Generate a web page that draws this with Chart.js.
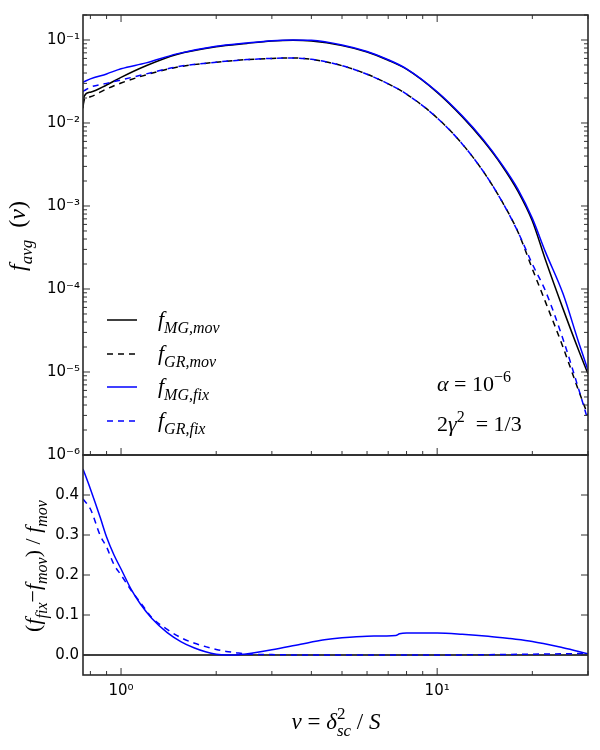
<!DOCTYPE html>
<html>
<head>
<meta charset="utf-8">
<script src="https://cdn.jsdelivr.net/npm/chart.js@4.4.1/dist/chart.umd.min.js"></script>
<style>
  html, body { margin: 0; padding: 0; background: #fff; }
  #wrap { width: 600px; height: 750px; }
</style>
</head>
<body>
<div id="wrap"><canvas id="chart" width="600" height="750"></canvas></div>
<script>
// nu = delta_sc^2 / S, shared by the four curves of the upper panel
const nu = [0.758, 0.765, 0.8, 0.9, 1.0, 1.2, 1.5, 2, 2.5, 3, 3.5, 4, 5, 6, 7, 8, 10, 12, 14, 16, 18, 20, 22, 25, 28, 30];
const fMGmov = [0.015, 0.021, 0.0235, 0.0287, 0.0355, 0.049, 0.067, 0.083, 0.091, 0.097, 0.099, 0.097, 0.0855, 0.0715, 0.057, 0.0445, 0.0234, 0.0119, 0.0061, 0.0031, 0.00151, 0.00066, 0.000225, 0.000058, 0.0000184, 0.0000095];
const fGRmov = [0.0165, 0.019, 0.0207, 0.0257, 0.0303, 0.038, 0.047, 0.054, 0.058, 0.060, 0.0607, 0.0585, 0.049, 0.0387, 0.0296, 0.0223, 0.0115, 0.0056, 0.0026, 0.00115, 0.00049, 0.000175, 0.00007, 0.00002, 0.000006, 0.000003];
const fMGfix = [0.031, 0.0315, 0.034, 0.039, 0.045, 0.053, 0.068, 0.084, 0.092, 0.098, 0.100, 0.099, 0.087, 0.0725, 0.0578, 0.045, 0.0238, 0.0122, 0.0063, 0.0032, 0.0016, 0.00071, 0.00028, 0.000088, 0.000023, 0.0000105];
const fGRfix = [0.024, 0.0245, 0.027, 0.030, 0.033, 0.039, 0.0475, 0.054, 0.058, 0.060, 0.0607, 0.0585, 0.049, 0.0387, 0.0296, 0.0223, 0.0115, 0.0056, 0.0026, 0.00115, 0.00049, 0.0002, 0.000095, 0.000025, 0.0000063, 0.0000026];

// lower panel: (f_fix - f_mov) / f_mov
const nuRatio = [0.758, 0.8, 0.86, 0.9, 0.95, 1.0, 1.08, 1.15, 1.25, 1.4, 1.55, 1.7, 1.85, 2.0, 2.15, 2.3, 2.45, 3.0, 3.7, 4.4, 5.0, 6.0, 7.4, 7.6, 8.0, 10, 12, 14.5, 17, 20, 25, 30];
const ratioMG = [0.465, 0.415, 0.343, 0.295, 0.25, 0.215, 0.162, 0.128, 0.092, 0.056, 0.033, 0.018, 0.008, 0.002, 0.0, 0.0, 0.002, 0.013, 0.027, 0.038, 0.043, 0.047, 0.049, 0.053, 0.055, 0.055, 0.052, 0.047, 0.041, 0.034, 0.018, 0.003];
const ratioGR = [0.39, 0.365, 0.298, 0.27, 0.226, 0.20, 0.16, 0.132, 0.094, 0.064, 0.043, 0.03, 0.021, 0.014, 0.009, 0.006, 0.003, 0.001, 0.0, 0.0, 0.0, 0.0, 0.0, 0.0, 0.0, 0.0, 0.0003, 0.0008, 0.0015, 0.002, 0.003, 0.004];
const zeroX = [0.758, 30];
const zeroY = [0, 0];

// tick positions
const xMajor = [1, 10];
const xMinor = [0.8, 0.9, 2, 3, 4, 5, 6, 7, 8, 9, 20, 30];
const yTopDecades = [-6, -5, -4, -3, -2, -1];
const yTopMinorMult = [2, 3, 4, 5, 6, 7, 8, 9];
const yBotTicks = [0, 0.1, 0.2, 0.3, 0.4];

const pts = (xs, ys) => xs.map((x, i) => ({ x, y: ys[i] }));
const serif = '"Liberation Serif", "DejaVu Serif", serif';
const SUP = { '0': '⁰', '1': '¹', '2': '²', '3': '³', '4': '⁴', '5': '⁵', '6': '⁶', '7': '⁷', '8': '⁸', '9': '⁹', '-': '⁻' };
const supText = (n) => String(n).split('').map(c => SUP[c]).join('');

function partFont(kind, size) {
  const s = (kind === 'i' || kind === 'r') ? size : Math.round(size * 0.72);
  const it = (kind === 'r' || kind === 'rsup') ? '' : 'italic ';
  return it + s + 'px ' + serif;
}
function partWidth(ctx, p, size) {
  ctx.font = partFont(p[1], size);
  if (p[1] === 'ss') {
    const [a, b] = p[0].split('|');
    return Math.max(ctx.measureText(a).width, ctx.measureText(b).width);
  }
  return ctx.measureText(p[0]).width;
}
// parts: [text, kind] with kind i (italic), r (roman), sub, sup, rsup, ss (sub|sup stacked)
function drawMath(ctx, parts, x, y, size, align) {
  ctx.save();
  ctx.fillStyle = '#000';
  ctx.textBaseline = 'alphabetic';
  ctx.textAlign = 'left';
  const widths = parts.map(p => partWidth(ctx, p, size));
  const total = widths.reduce((a, b) => a + b, 0);
  let cx = align === 'center' ? x - total / 2 : x;
  parts.forEach((p, i) => {
    ctx.font = partFont(p[1], size);
    if (p[1] === 'ss') {
      const [a, b] = p[0].split('|');
      ctx.fillText(a, cx, y + size * 0.3);
      ctx.font = partFont('rsup', size);
      ctx.fillText(b, cx, y - size * 0.42);
    } else {
      let dy = 0;
      if (p[1] === 'sub') dy = size * 0.3;
      if (p[1] === 'sup' || p[1] === 'rsup') dy = -size * 0.42;
      ctx.fillText(p[0], cx, y + dy);
    }
    cx += widths[i];
  });
  ctx.restore();
}

const decorations = {
  id: 'decorations',
  afterDraw(chart) {
    const ctx = chart.ctx;
    const ca = chart.chartArea;
    const x = chart.scales.x, yT = chart.scales.yTop, yB = chart.scales.yBot;
    ctx.save();

    // inward ticks
    ctx.strokeStyle = '#333';
    ctx.lineWidth = 1;
    const line = (x1, y1, x2, y2) => { ctx.beginPath(); ctx.moveTo(x1, y1); ctx.lineTo(x2, y2); ctx.stroke(); };
    const xTick = (v, len) => {
      const px = x.getPixelForValue(v);
      line(px, yT.top, px, yT.top + len);
      line(px, yT.bottom, px, yT.bottom - len);
      line(px, yB.bottom, px, yB.bottom - len);
    };
    xMajor.forEach(v => xTick(v, 7));
    xMinor.forEach(v => xTick(v, 4));
    const yTick = (scale, v, len) => {
      const py = scale.getPixelForValue(v);
      line(ca.left, py, ca.left + len, py);
      line(ca.right, py, ca.right - len, py);
    };
    yTopDecades.forEach(d => {
      yTick(yT, Math.pow(10, d), 7);
      if (d < -1) yTopMinorMult.forEach(m => yTick(yT, m * Math.pow(10, d), 4));
    });
    yTick(yT, 0.2, 4);
    yBotTicks.forEach(v => yTick(yB, v, 7));

    // panel frames
    ctx.strokeStyle = '#2b2b2b';
    ctx.lineWidth = 1.6;
    ctx.strokeRect(ca.left, yT.top, ca.right - ca.left, yT.bottom - yT.top);
    ctx.strokeRect(ca.left, yB.top, ca.right - ca.left, yB.bottom - yB.top);

    // legend
    const legendY = [320, 354, 387, 421];
    chart.data.datasets.filter(d => d.mathLabel).forEach((d, i) => {
      const ly = legendY[i];
      ctx.strokeStyle = d.borderColor;
      ctx.lineWidth = d.borderWidth;
      ctx.setLineDash(d.borderDash || []);
      line(107, ly, 137, ly);
      ctx.setLineDash([]);
      drawMath(ctx, d.mathLabel, 158, ly + 6, 22);
    });

    // annotations
    drawMath(ctx, [['α', 'i'], [' = ', 'r'], ['10', 'r'], ['−6', 'rsup']], 437, 391, 22);
    drawMath(ctx, [['2', 'r'], ['γ', 'i'], ['2', 'rsup'], ['  = ', 'r'], ['1/3', 'r']], 437, 431, 22);

    // axis titles
    drawMath(ctx, [['ν', 'i'], [' = ', 'r'], ['δ', 'i'], ['sc|2', 'ss'], [' / ', 'r'], ['S', 'i']], 336, 729, 23, 'center');
    ctx.save();
    ctx.translate(25, 236);
    ctx.rotate(-Math.PI / 2);
    drawMath(ctx, [['f', 'i'], ['avg', 'sub'], ['  (', 'r'], ['ν', 'i'], [')', 'r']], 0, 0, 24, 'center');
    ctx.restore();
    ctx.save();
    ctx.translate(40, 566);
    ctx.rotate(-Math.PI / 2);
    drawMath(ctx, [['(', 'r'], ['f', 'i'], ['fix', 'sub'], ['−', 'r'], ['f', 'i'], ['mov', 'sub'], [')', 'r'], [' / ', 'r'], ['f', 'i'], ['mov', 'sub']], 0, 0, 22, 'center');
    ctx.restore();

    ctx.restore();
  }
};

const tickFont = { family: '"DejaVu Sans", sans-serif', size: 15 };
const logLabel = (v) => {
  const e = Math.log10(v);
  return Math.abs(e - Math.round(e)) < 1e-6 ? '10' + supText(Math.round(e)) : '';
};

new Chart(document.getElementById('chart'), {
  type: 'line',
  data: {
    datasets: [
      { label: 'f_MG,mov', mathLabel: [['f', 'i'], ['MG,mov', 'sub']], data: pts(nu, fMGmov), yAxisID: 'yTop',
        borderColor: '#000000', borderWidth: 1.5, order: 4 },
      { label: 'f_GR,mov', mathLabel: [['f', 'i'], ['GR,mov', 'sub']], data: pts(nu, fGRmov), yAxisID: 'yTop',
        borderColor: '#000000', borderWidth: 1.5, borderDash: [6, 5], order: 3 },
      { label: 'f_MG,fix', mathLabel: [['f', 'i'], ['MG,fix', 'sub']], data: pts(nu, fMGfix), yAxisID: 'yTop',
        borderColor: '#0000ff', borderWidth: 1.5, order: 2 },
      { label: 'f_GR,fix', mathLabel: [['f', 'i'], ['GR,fix', 'sub']], data: pts(nu, fGRfix), yAxisID: 'yTop',
        borderColor: '#0000ff', borderWidth: 1.5, borderDash: [6, 5], order: 1 },
      { label: 'zero', data: pts(zeroX, zeroY), yAxisID: 'yBot',
        borderColor: '#000000', borderWidth: 1.5, order: 7 },
      { label: 'ratio MG', data: pts(nuRatio, ratioMG), yAxisID: 'yBot',
        borderColor: '#0000ff', borderWidth: 1.5, order: 6 },
      { label: 'ratio GR', data: pts(nuRatio, ratioGR), yAxisID: 'yBot',
        borderColor: '#0000ff', borderWidth: 1.5, borderDash: [6, 5], order: 5 }
    ]
  },
  options: {
    responsive: false,
    animation: false,
    layout: { padding: { top: 15, right: 12, left: 0, bottom: 0 } },
    elements: {
      point: { radius: 0, hoverRadius: 0 },
      line: { fill: false, cubicInterpolationMode: 'monotone' }
    },
    plugins: { legend: { display: false }, tooltip: { enabled: false } },
    scales: {
      x: {
        type: 'logarithmic', position: 'bottom', min: 0.758, max: 30,
        grid: { display: false, drawTicks: false }, border: { display: false },
        ticks: { autoSkip: false, maxRotation: 0, padding: 7, color: '#000', font: tickFont, callback: logLabel },
        afterFit: (s) => { s.height = 75; }
      },
      // in a stack, the scale listed first ends up lowest
      yBot: {
        type: 'linear', position: 'left', stack: 'panels', stackWeight: 1, min: -0.05, max: 0.5,
        grid: { display: false, drawTicks: false }, border: { display: false },
        afterBuildTicks: (s) => { s.ticks = yBotTicks.map(v => ({ value: v })); },
        ticks: { autoSkip: false, padding: 4, color: '#000', font: tickFont,
          callback: (v) => v.toFixed(1) },
        afterFit: (s) => { s.width = 83; }
      },
      yTop: {
        type: 'logarithmic', position: 'left', stack: 'panels', stackWeight: 2, min: 1e-6, max: 0.2,
        grid: { display: false, drawTicks: false }, border: { display: false },
        ticks: { autoSkip: false, padding: 3, color: '#000', font: tickFont, callback: logLabel },
        afterFit: (s) => { s.width = 83; }
      }
    }
  },
  plugins: [decorations]
});
</script>
</body>
</html>
